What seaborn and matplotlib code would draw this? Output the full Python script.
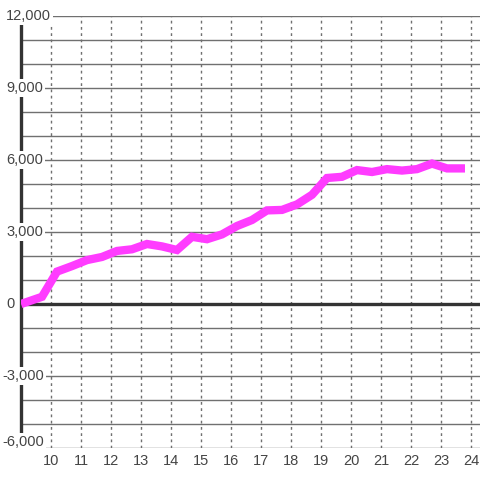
import matplotlib
matplotlib.use("Agg")
import matplotlib.pyplot as plt
import matplotlib.transforms as mtransforms
import pandas as pd
import seaborn as sns

# data
hours = [9.0, 9.7, 10.2, 10.7, 11.2, 11.7, 12.2, 12.7, 13.2, 13.7, 14.2, 14.7,
         15.2, 15.7, 16.2, 16.7, 17.2, 17.7, 18.2, 18.7, 19.2, 19.7, 20.2, 20.7,
         21.2, 21.7, 22.2, 22.7, 23.2, 23.8]
values = [0, 300, 1350, 1580, 1830, 1960, 2210, 2280, 2500, 2400, 2250, 2800,
          2700, 2900, 3250, 3500, 3900, 3920, 4150, 4550, 5250, 5300, 5580, 5500,
          5620, 5560, 5620, 5850, 5650, 5650]
x_ticks = list(range(10, 25))
y_ticks = [-6000, -3000, 0, 3000, 6000, 9000, 12000]
y_grid = list(range(-6000, 12001, 1000))

LINE_COLOR = '#ff3cff'
GRID_COLOR = '#707070'
AXIS_COLOR = '#333333'
TEXT_COLOR = '#444444'

sns.set_style('white')
plt.rcParams['font.family'] = ['Liberation Sans', 'DejaVu Sans']

df = pd.DataFrame({'hour': hours, 'value': values})

fig = plt.figure(figsize=(4.8, 4.8), dpi=100)
ax = fig.add_axes([21 / 480, 32 / 480, 459 / 480, 432 / 480])
ax.set_xlim(9.0, 24.3)
ax.set_ylim(-6000, 12000)

# grid
for yv in y_grid:
    ax.axhline(yv, color=GRID_COLOR, lw=1.0, zorder=1)
for xv in x_ticks:
    ax.axvline(xv, color=GRID_COLOR, lw=1.0, ls=(0, (2, 2.5)), zorder=1)
ax.axhline(0, color=AXIS_COLOR, lw=2.4, zorder=2)
ax.axvline(9.0, color=AXIS_COLOR, lw=2.4, zorder=2, clip_on=False)

sns.lineplot(data=df, x='hour', y='value', color=LINE_COLOR, lw=6,
             ax=ax, zorder=3, solid_joinstyle='miter', solid_capstyle='butt')

for s in ax.spines.values():
    s.set_visible(False)
ax.set_xticks([])
ax.set_yticks([])
ax.set_xlabel('')
ax.set_ylabel('')

# y labels drawn over the axis with white boxes
for yv in y_ticks:
    dy = 6 if yv == -6000 else 0
    tr = mtransforms.blended_transform_factory(fig.transFigure, ax.transData)
    tr = tr + mtransforms.ScaledTranslation(0, dy / 100, fig.dpi_scale_trans)
    xpos = 2 / 480 if yv < 0 else 6 / 480
    ax.text(xpos, yv, f'{yv:,}', transform=tr, ha='left', va='center',
            fontsize=10.5, color=TEXT_COLOR, zorder=5, clip_on=False,
            bbox=dict(boxstyle='square,pad=0.12', fc='white', ec='none'))

# x labels
for xv in x_ticks:
    tr = mtransforms.blended_transform_factory(ax.transData, fig.transFigure)
    ax.text(xv, 1 - 461 / 480, str(xv), transform=tr, ha='center', va='center',
            fontsize=10.5, color=TEXT_COLOR, clip_on=False)

fig.savefig('out.png', dpi=100, facecolor='white')
